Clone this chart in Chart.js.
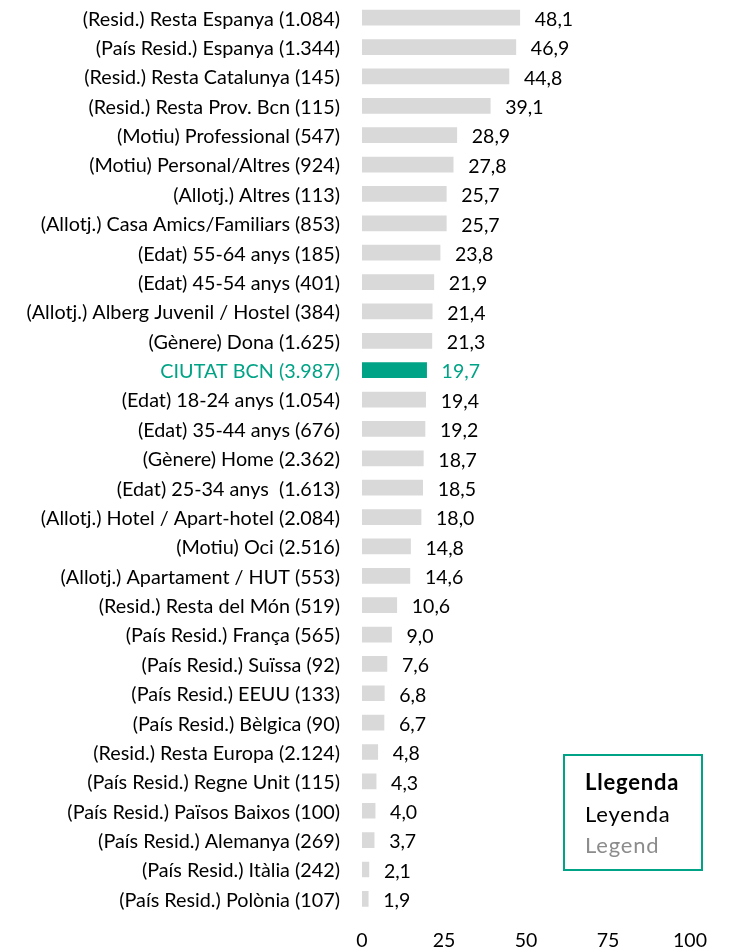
<!DOCTYPE html>
<html>
<head>
<meta charset="utf-8">
<script src="https://cdn.jsdelivr.net/npm/chart.js@4"></script>
<style>
  html, body { margin: 0; padding: 0; background: #fff; }
  #wrap { position: relative; width: 730px; height: 949px; }
  canvas { display: block; }
  #llegenda {
    position: absolute; left: 563px; top: 754px; width: 136px; height: 113px;
    border: 2px solid #00a385; box-sizing: content-box;
    font-family: Lato, sans-serif; font-size: 22px; line-height: 31px; letter-spacing: 0.8px;
  }
  #llegenda div { position: absolute; left: 20px; }
</style>
</head>
<body>
<div id="wrap">
  <canvas id="grafic" width="730" height="949"></canvas>
  <div id="llegenda">
    <div style="top:10px;font-weight:bold;color:#000">Llegenda</div>
    <div style="top:42px;color:#000">Leyenda</div>
    <div style="top:73px;color:#8c8c8c">Legend</div>
  </div>
</div>
<script>
const categories = [
  '(Resid.) Resta Espanya (1.084)',
  '(País Resid.) Espanya (1.344)',
  '(Resid.) Resta Catalunya (145)',
  '(Resid.) Resta Prov. Bcn (115)',
  '(Motiu) Professional (547)',
  '(Motiu) Personal/Altres (924)',
  '(Allotj.) Altres (113)',
  '(Allotj.) Casa Amics/Familiars (853)',
  '(Edat) 55-64 anys (185)',
  '(Edat) 45-54 anys (401)',
  '(Allotj.) Alberg Juvenil / Hostel (384)',
  '(Gènere) Dona (1.625)',
  'CIUTAT BCN (3.987)',
  '(Edat) 18-24 anys (1.054)',
  '(Edat) 35-44 anys (676)',
  '(Gènere) Home (2.362)',
  '(Edat) 25-34 anys  (1.613)',
  '(Allotj.) Hotel / Apart-hotel (2.084)',
  '(Motiu) Oci (2.516)',
  '(Allotj.) Apartament / HUT (553)',
  '(Resid.) Resta del Món (519)',
  '(País Resid.) França (565)',
  '(País Resid.) Suïssa (92)',
  '(País Resid.) EEUU (133)',
  '(País Resid.) Bèlgica (90)',
  '(Resid.) Resta Europa (2.124)',
  '(País Resid.) Regne Unit (115)',
  '(País Resid.) Països Baixos (100)',
  '(País Resid.) Alemanya (269)',
  '(País Resid.) Itàlia (242)',
  '(País Resid.) Polònia (107)'
];
const valors = [48.1, 46.9, 44.8, 39.1, 28.9, 27.8, 25.7, 25.7, 23.8, 21.9, 21.4, 21.3, 19.7,
  19.4, 19.2, 18.7, 18.5, 18.0, 14.8, 14.6, 10.6, 9.0, 7.6, 6.8, 6.7, 4.8, 4.3, 4.0, 3.7, 2.1, 1.9];
const ticksX = [0, 25, 50, 75, 100];
const destacat = 'CIUTAT BCN (3.987)';

const verd = '#00a385';
const gris = '#d9d9d9';

const colorBarra = categories.map(c => c === destacat ? verd : gris);
const colorText = categories.map(c => c === destacat ? verd : '#000');

// etiquetes de valor a la dreta de cada barra
const etiquetesValor = {
  id: 'etiquetesValor',
  afterDatasetsDraw(chart) {
    const ctx = chart.ctx;
    const meta = chart.getDatasetMeta(0);
    ctx.save();
    ctx.font = '19.5px Lato, sans-serif';
    ctx.textBaseline = 'middle';
    ctx.textAlign = 'left';
    meta.data.forEach((bar, i) => {
      ctx.fillStyle = colorText[i];
      ctx.fillText(valors[i].toFixed(1).replace('.', ','), bar.x + 15, bar.y + 2);
    });
    ctx.restore();
  }
};

const ctx = document.getElementById('grafic').getContext('2d');
new Chart(ctx, {
  type: 'bar',
  data: {
    labels: categories,
    datasets: [{
      data: valors,
      backgroundColor: colorBarra,
      barThickness: 15
    }]
  },
  options: {
    indexAxis: 'y',
    responsive: false,
    animation: false,
    layout: { padding: { top: 3, right: 40, bottom: -18, left: 0 } },
    plugins: { legend: { display: false }, tooltip: { enabled: false } },
    scales: {
      x: {
        min: 0, max: 100,
        afterBuildTicks(axis) { axis.ticks = ticksX.map(v => ({ value: v })); },
        grid: { display: false, drawTicks: false },
        border: { display: false },
        ticks: {
          color: '#000', padding: 15,
          font: { family: 'Lato, sans-serif', size: 19.5 }
        }
      },
      y: {
        afterFit(axis) {
          axis.width = 362;
          axis.paddingTop = 0;
          axis.paddingBottom = 0;
        },
        grid: { display: false, drawTicks: false },
        border: { display: false },
        ticks: {
          autoSkip: false, padding: 22, labelOffset: 1.5,
          color: c => colorText[c.index],
          font: { family: 'Lato, sans-serif', size: 19.8 }
        }
      }
    }
  },
  plugins: [etiquetesValor]
});
</script>
</body>
</html>
